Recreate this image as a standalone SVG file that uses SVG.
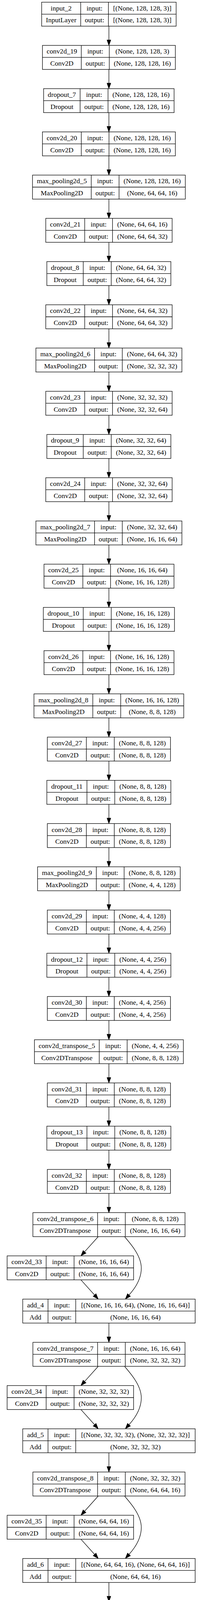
<svg xmlns="http://www.w3.org/2000/svg" width="538" height="4500" viewBox="0 0 538 4500">
<style>
.b{fill:#fff;stroke:#000;stroke-width:1.3}
.l{fill:none;stroke:#000;stroke-width:1.3}
.e{fill:none;stroke:#000;stroke-width:1.3;marker-end:url(#ah)}
text{font-family:"Liberation Serif","Times New Roman",serif;font-size:17.6px;text-anchor:middle;fill:#000}
</style>
<defs>
<marker id="ah" markerWidth="14" markerHeight="10" refX="0" refY="5" orient="auto" markerUnits="userSpaceOnUse" viewBox="0 0 14 10" overflow="visible"><path d="M0,0L14,5L0,10z" fill="#000" stroke="#000" stroke-width="1"/></marker>
</defs>
<rect x="0" y="0" width="538" height="4500" fill="#fff"/>
<g id="connectors">
<path class="e" d="M279,67.0V102.3"/>
<path class="e" d="M279,177.7V212.9"/>
<path class="e" d="M279,288.3V323.6"/>
<path class="e" d="M279,399.0V434.3"/>
<path class="e" d="M279,509.7V545.0"/>
<path class="e" d="M279,620.4V655.6"/>
<path class="e" d="M279,731.0V766.3"/>
<path class="e" d="M279,841.7V877.0"/>
<path class="e" d="M279,952.4V987.6"/>
<path class="e" d="M279,1063.0V1098.3"/>
<path class="e" d="M279,1173.7V1209.0"/>
<path class="e" d="M279,1284.4V1319.6"/>
<path class="e" d="M279,1395.0V1430.3"/>
<path class="e" d="M279,1505.7V1541.0"/>
<path class="e" d="M279,1616.4V1651.7"/>
<path class="e" d="M279,1727.1V1762.3"/>
<path class="e" d="M279,1837.7V1873.0"/>
<path class="e" d="M279,1948.4V1983.7"/>
<path class="e" d="M279,2059.1V2094.3"/>
<path class="e" d="M279,2169.7V2205.0"/>
<path class="e" d="M279,2280.4V2315.7"/>
<path class="e" d="M279,2391.1V2426.3"/>
<path class="e" d="M279,2501.7V2537.0"/>
<path class="e" d="M279,2612.4V2647.7"/>
<path class="e" d="M279,2723.1V2758.4"/>
<path class="e" d="M279,2833.8V2869.0"/>
<path class="e" d="M279,2944.4V2979.7"/>
<path class="e" d="M279,3055.1V3090.4"/>
<path class="e" d="M251.7,3165.8L216.7,3204.6"/>
<path class="e" d="M319,3165.8C334,3183.4 362,3214.4 362,3246.4C362,3272.4 347.3,3296.6 330.5,3315.2"/>
<path class="e" d="M207.3,3276.4L242.3,3315.3"/>
<path class="e" d="M279,3387.1V3422.4"/>
<path class="e" d="M251.7,3497.8L216.7,3536.6"/>
<path class="e" d="M319,3497.8C334,3515.4 362,3546.4 362,3578.4C362,3604.4 347.3,3628.6 330.5,3647.2"/>
<path class="e" d="M207.3,3608.4L242.3,3647.3"/>
<path class="e" d="M279,3719.1V3754.4"/>
<path class="e" d="M251.7,3829.8L216.7,3868.7"/>
<path class="e" d="M319,3829.8C334,3847.4 362,3878.4 362,3910.4C362,3936.4 347.3,3960.6 330.5,3979.2"/>
<path class="e" d="M207.3,3940.4L242.3,3979.3"/>
<path class="e" d="M279,4051.1V4086.4"/>
<path class="e" d="M250,4161.8L212.9,4200.9"/>
<path class="e" d="M321,4161.8C338,4180 366.7,4211 366.7,4243.4C366.7,4270 348.2,4292.8 331,4310.9"/>
<path class="e" d="M204,4272.5L241.1,4311.5"/>
<path class="e" d="M279,4383.1V4418.4"/>
</g>

<g id="input_2" transform="translate(0,5.6)"><rect class="b" x="106.7" y="0" width="344.6" height="61.4"/><path class="l" d="M106.7,30.7H451.3M206.7,0V61.4M277.7,0V61.4"/><text x="156.7" y="21.2">input_2</text><text x="242.2" y="21.2">input:</text><text x="364.5" y="21.2">[(None, 128, 128, 3)]</text><text x="156.7" y="51.9">InputLayer</text><text x="242.2" y="51.9">output:</text><text x="364.5" y="51.9">[(None, 128, 128, 3)]</text></g>

<g id="conv2d_19" transform="translate(0,116.27)"><rect class="b" x="108.7" y="0" width="340.6" height="61.4"/><path class="l" d="M108.7,30.7H449.3M208.3,0V61.4M280,0V61.4"/><text x="158.5" y="21.2">conv2d_19</text><text x="244.2" y="21.2">input:</text><text x="364.7" y="21.2">(None, 128, 128, 3)</text><text x="158.5" y="51.9">Conv2D</text><text x="244.2" y="51.9">output:</text><text x="364.7" y="51.9">(None, 128, 128, 16)</text></g>

<g id="dropout_7" transform="translate(0,226.94)"><rect class="b" x="111.7" y="0" width="334.3" height="61.4"/><path class="l" d="M111.7,30.7H446M205.3,0V61.4M276.7,0V61.4"/><text x="158.5" y="21.2">dropout_7</text><text x="241" y="21.2">input:</text><text x="361.4" y="21.2">(None, 128, 128, 16)</text><text x="158.5" y="51.9">Dropout</text><text x="241" y="51.9">output:</text><text x="361.4" y="51.9">(None, 128, 128, 16)</text></g>

<g id="conv2d_20" transform="translate(0,337.61)"><rect class="b" x="108.7" y="0" width="340.6" height="61.4"/><path class="l" d="M108.7,30.7H449.3M208.3,0V61.4M279.3,0V61.4"/><text x="158.5" y="21.2">conv2d_20</text><text x="243.8" y="21.2">input:</text><text x="364.3" y="21.2">(None, 128, 128, 16)</text><text x="158.5" y="51.9">Conv2D</text><text x="243.8" y="51.9">output:</text><text x="364.3" y="51.9">(None, 128, 128, 16)</text></g>

<g id="max_pooling2d_5" transform="translate(0,448.28)"><rect class="b" x="83.3" y="0" width="391.4" height="61.4"/><path class="l" d="M83.3,30.7H474.7M233.7,0V61.4M305,0V61.4"/><text x="158.5" y="21.2">max_pooling2d_5</text><text x="269.4" y="21.2">input:</text><text x="389.9" y="21.2">(None, 128, 128, 16)</text><text x="158.5" y="51.9">MaxPooling2D</text><text x="269.4" y="51.9">output:</text><text x="389.9" y="51.9">(None, 64, 64, 16)</text></g>

<g id="conv2d_21" transform="translate(0,558.95)"><rect class="b" x="117.3" y="0" width="323.7" height="61.4"/><path class="l" d="M117.3,30.7H441M217,0V61.4M288.3,0V61.4"/><text x="167.2" y="21.2">conv2d_21</text><text x="252.7" y="21.2">input:</text><text x="364.7" y="21.2">(None, 64, 64, 16)</text><text x="167.2" y="51.9">Conv2D</text><text x="252.7" y="51.9">output:</text><text x="364.7" y="51.9">(None, 64, 64, 32)</text></g>

<g id="dropout_8" transform="translate(0,669.62)"><rect class="b" x="120" y="0" width="317.7" height="61.4"/><path class="l" d="M120,30.7H437.7M213.3,0V61.4M285,0V61.4"/><text x="166.7" y="21.2">dropout_8</text><text x="249.2" y="21.2">input:</text><text x="361.4" y="21.2">(None, 64, 64, 32)</text><text x="166.7" y="51.9">Dropout</text><text x="249.2" y="51.9">output:</text><text x="361.4" y="51.9">(None, 64, 64, 32)</text></g>

<g id="conv2d_22" transform="translate(0,780.29)"><rect class="b" x="117.3" y="0" width="323.7" height="61.4"/><path class="l" d="M117.3,30.7H441M217,0V61.4M288.3,0V61.4"/><text x="167.2" y="21.2">conv2d_22</text><text x="252.7" y="21.2">input:</text><text x="364.7" y="21.2">(None, 64, 64, 32)</text><text x="167.2" y="51.9">Conv2D</text><text x="252.7" y="51.9">output:</text><text x="364.7" y="51.9">(None, 64, 64, 32)</text></g>

<g id="max_pooling2d_6" transform="translate(0,890.96)"><rect class="b" x="92" y="0" width="374" height="61.4"/><path class="l" d="M92,30.7H466M242.3,0V61.4M313.3,0V61.4"/><text x="167.2" y="21.2">max_pooling2d_6</text><text x="277.8" y="21.2">input:</text><text x="389.7" y="21.2">(None, 64, 64, 32)</text><text x="167.2" y="51.9">MaxPooling2D</text><text x="277.8" y="51.9">output:</text><text x="389.7" y="51.9">(None, 32, 32, 32)</text></g>

<g id="conv2d_23" transform="translate(0,1001.63)"><rect class="b" x="117.3" y="0" width="323.7" height="61.4"/><path class="l" d="M117.3,30.7H441M217,0V61.4M288.3,0V61.4"/><text x="167.2" y="21.2">conv2d_23</text><text x="252.7" y="21.2">input:</text><text x="364.7" y="21.2">(None, 32, 32, 32)</text><text x="167.2" y="51.9">Conv2D</text><text x="252.7" y="51.9">output:</text><text x="364.7" y="51.9">(None, 32, 32, 64)</text></g>

<g id="dropout_9" transform="translate(0,1112.3)"><rect class="b" x="120" y="0" width="317.7" height="61.4"/><path class="l" d="M120,30.7H437.7M213.3,0V61.4M285,0V61.4"/><text x="166.7" y="21.2">dropout_9</text><text x="249.2" y="21.2">input:</text><text x="361.4" y="21.2">(None, 32, 32, 64)</text><text x="166.7" y="51.9">Dropout</text><text x="249.2" y="51.9">output:</text><text x="361.4" y="51.9">(None, 32, 32, 64)</text></g>

<g id="conv2d_24" transform="translate(0,1222.97)"><rect class="b" x="117.3" y="0" width="323.7" height="61.4"/><path class="l" d="M117.3,30.7H441M217,0V61.4M288.3,0V61.4"/><text x="167.2" y="21.2">conv2d_24</text><text x="252.7" y="21.2">input:</text><text x="364.7" y="21.2">(None, 32, 32, 64)</text><text x="167.2" y="51.9">Conv2D</text><text x="252.7" y="51.9">output:</text><text x="364.7" y="51.9">(None, 32, 32, 64)</text></g>

<g id="max_pooling2d_7" transform="translate(0,1333.64)"><rect class="b" x="92" y="0" width="374" height="61.4"/><path class="l" d="M92,30.7H466M242.3,0V61.4M313.3,0V61.4"/><text x="167.2" y="21.2">max_pooling2d_7</text><text x="277.8" y="21.2">input:</text><text x="389.7" y="21.2">(None, 32, 32, 64)</text><text x="167.2" y="51.9">MaxPooling2D</text><text x="277.8" y="51.9">output:</text><text x="389.7" y="51.9">(None, 16, 16, 64)</text></g>

<g id="conv2d_25" transform="translate(0,1444.31)"><rect class="b" x="112.7" y="0" width="333" height="61.4"/><path class="l" d="M112.7,30.7H445.7M212.3,0V61.4M283.3,0V61.4"/><text x="162.5" y="21.2">conv2d_25</text><text x="247.8" y="21.2">input:</text><text x="364.5" y="21.2">(None, 16, 16, 64)</text><text x="162.5" y="51.9">Conv2D</text><text x="247.8" y="51.9">output:</text><text x="364.5" y="51.9">(None, 16, 16, 128)</text></g>

<g id="dropout_10" transform="translate(0,1554.98)"><rect class="b" x="111" y="0" width="336" height="61.4"/><path class="l" d="M111,30.7H447M213.3,0V61.4M285,0V61.4"/><text x="162.2" y="21.2">dropout_10</text><text x="249.2" y="21.2">input:</text><text x="366" y="21.2">(None, 16, 16, 128)</text><text x="162.2" y="51.9">Dropout</text><text x="249.2" y="51.9">output:</text><text x="366" y="51.9">(None, 16, 16, 128)</text></g>

<g id="conv2d_26" transform="translate(0,1665.65)"><rect class="b" x="112.7" y="0" width="333" height="61.4"/><path class="l" d="M112.7,30.7H445.7M212.3,0V61.4M283.3,0V61.4"/><text x="162.5" y="21.2">conv2d_26</text><text x="247.8" y="21.2">input:</text><text x="364.5" y="21.2">(None, 16, 16, 128)</text><text x="162.5" y="51.9">Conv2D</text><text x="247.8" y="51.9">output:</text><text x="364.5" y="51.9">(None, 16, 16, 128)</text></g>

<g id="max_pooling2d_8" transform="translate(0,1776.32)"><rect class="b" x="87" y="0" width="383.7" height="61.4"/><path class="l" d="M87,30.7H470.7M237.7,0V61.4M309.3,0V61.4"/><text x="162.4" y="21.2">max_pooling2d_8</text><text x="273.5" y="21.2">input:</text><text x="390" y="21.2">(None, 16, 16, 128)</text><text x="162.4" y="51.9">MaxPooling2D</text><text x="273.5" y="51.9">output:</text><text x="390" y="51.9">(None, 8, 8, 128)</text></g>

<g id="conv2d_27" transform="translate(0,1886.99)"><rect class="b" x="121.3" y="0" width="315.4" height="61.4"/><path class="l" d="M121.3,30.7H436.7M221.3,0V61.4M292.7,0V61.4"/><text x="171.3" y="21.2">conv2d_27</text><text x="257" y="21.2">input:</text><text x="364.7" y="21.2">(None, 8, 8, 128)</text><text x="171.3" y="51.9">Conv2D</text><text x="257" y="51.9">output:</text><text x="364.7" y="51.9">(None, 8, 8, 128)</text></g>

<g id="dropout_11" transform="translate(0,1997.66)"><rect class="b" x="120" y="0" width="317.7" height="61.4"/><path class="l" d="M120,30.7H437.7M222.7,0V61.4M294,0V61.4"/><text x="171.4" y="21.2">dropout_11</text><text x="258.4" y="21.2">input:</text><text x="365.9" y="21.2">(None, 8, 8, 128)</text><text x="171.4" y="51.9">Dropout</text><text x="258.4" y="51.9">output:</text><text x="365.9" y="51.9">(None, 8, 8, 128)</text></g>

<g id="conv2d_28" transform="translate(0,2108.33)"><rect class="b" x="121.3" y="0" width="315.4" height="61.4"/><path class="l" d="M121.3,30.7H436.7M221.3,0V61.4M292.7,0V61.4"/><text x="171.3" y="21.2">conv2d_28</text><text x="257" y="21.2">input:</text><text x="364.7" y="21.2">(None, 8, 8, 128)</text><text x="171.3" y="51.9">Conv2D</text><text x="257" y="51.9">output:</text><text x="364.7" y="51.9">(None, 8, 8, 128)</text></g>

<g id="max_pooling2d_9" transform="translate(0,2219.0)"><rect class="b" x="96.3" y="0" width="365.4" height="61.4"/><path class="l" d="M96.3,30.7H461.7M246.7,0V61.4M318,0V61.4"/><text x="171.5" y="21.2">max_pooling2d_9</text><text x="282.4" y="21.2">input:</text><text x="389.9" y="21.2">(None, 8, 8, 128)</text><text x="171.5" y="51.9">MaxPooling2D</text><text x="282.4" y="51.9">output:</text><text x="389.9" y="51.9">(None, 4, 4, 128)</text></g>

<g id="conv2d_29" transform="translate(0,2329.67)"><rect class="b" x="121.3" y="0" width="315.4" height="61.4"/><path class="l" d="M121.3,30.7H436.7M221.3,0V61.4M292.7,0V61.4"/><text x="171.3" y="21.2">conv2d_29</text><text x="257" y="21.2">input:</text><text x="364.7" y="21.2">(None, 4, 4, 128)</text><text x="171.3" y="51.9">Conv2D</text><text x="257" y="51.9">output:</text><text x="364.7" y="51.9">(None, 4, 4, 256)</text></g>

<g id="dropout_12" transform="translate(0,2440.34)"><rect class="b" x="120" y="0" width="317.7" height="61.4"/><path class="l" d="M120,30.7H437.7M222.7,0V61.4M294,0V61.4"/><text x="171.4" y="21.2">dropout_12</text><text x="258.4" y="21.2">input:</text><text x="365.9" y="21.2">(None, 4, 4, 256)</text><text x="171.4" y="51.9">Dropout</text><text x="258.4" y="51.9">output:</text><text x="365.9" y="51.9">(None, 4, 4, 256)</text></g>

<g id="conv2d_30" transform="translate(0,2551.01)"><rect class="b" x="121.3" y="0" width="315.4" height="61.4"/><path class="l" d="M121.3,30.7H436.7M221.3,0V61.4M292.7,0V61.4"/><text x="171.3" y="21.2">conv2d_30</text><text x="257" y="21.2">input:</text><text x="364.7" y="21.2">(None, 4, 4, 256)</text><text x="171.3" y="51.9">Conv2D</text><text x="257" y="51.9">output:</text><text x="364.7" y="51.9">(None, 4, 4, 256)</text></g>

<g id="conv2d_transpose_5" transform="translate(0,2661.68)"><rect class="b" x="88.3" y="0" width="381.4" height="61.4"/><path class="l" d="M88.3,30.7H469.7M254.3,0V61.4M325.7,0V61.4"/><text x="171.3" y="21.2">conv2d_transpose_5</text><text x="290" y="21.2">input:</text><text x="397.7" y="21.2">(None, 4, 4, 256)</text><text x="171.3" y="51.9">Conv2DTranspose</text><text x="290" y="51.9">output:</text><text x="397.7" y="51.9">(None, 8, 8, 128)</text></g>

<g id="conv2d_31" transform="translate(0,2772.35)"><rect class="b" x="121.3" y="0" width="315.4" height="61.4"/><path class="l" d="M121.3,30.7H436.7M221.3,0V61.4M292.7,0V61.4"/><text x="171.3" y="21.2">conv2d_31</text><text x="257" y="21.2">input:</text><text x="364.7" y="21.2">(None, 8, 8, 128)</text><text x="171.3" y="51.9">Conv2D</text><text x="257" y="51.9">output:</text><text x="364.7" y="51.9">(None, 8, 8, 128)</text></g>

<g id="dropout_13" transform="translate(0,2883.02)"><rect class="b" x="120" y="0" width="317.7" height="61.4"/><path class="l" d="M120,30.7H437.7M222.7,0V61.4M294,0V61.4"/><text x="171.4" y="21.2">dropout_13</text><text x="258.4" y="21.2">input:</text><text x="365.9" y="21.2">(None, 8, 8, 128)</text><text x="171.4" y="51.9">Dropout</text><text x="258.4" y="51.9">output:</text><text x="365.9" y="51.9">(None, 8, 8, 128)</text></g>

<g id="conv2d_32" transform="translate(0,2993.69)"><rect class="b" x="121.3" y="0" width="315.4" height="61.4"/><path class="l" d="M121.3,30.7H436.7M221.3,0V61.4M292.7,0V61.4"/><text x="171.3" y="21.2">conv2d_32</text><text x="257" y="21.2">input:</text><text x="364.7" y="21.2">(None, 8, 8, 128)</text><text x="171.3" y="51.9">Conv2D</text><text x="257" y="51.9">output:</text><text x="364.7" y="51.9">(None, 8, 8, 128)</text></g>

<g id="conv2d_transpose_6" transform="translate(0,3104.36)"><rect class="b" x="84.3" y="0" width="389.7" height="61.4"/><path class="l" d="M84.3,30.7H474M250,0V61.4M321,0V61.4"/><text x="167.2" y="21.2">conv2d_transpose_6</text><text x="285.5" y="21.2">input:</text><text x="397.5" y="21.2">(None, 8, 8, 128)</text><text x="167.2" y="51.9">Conv2DTranspose</text><text x="285.5" y="51.9">output:</text><text x="397.5" y="51.9">(None, 16, 16, 64)</text></g>

<g id="conv2d_33" transform="translate(0,3215.03)"><rect class="b" x="18.3" y="0" width="324" height="61.4"/><path class="l" d="M18.3,30.7H342.3M118.3,0V61.4M189.7,0V61.4"/><text x="68.3" y="21.2">conv2d_33</text><text x="154" y="21.2">input:</text><text x="266" y="21.2">(None, 16, 16, 64)</text><text x="68.3" y="51.9">Conv2D</text><text x="154" y="51.9">output:</text><text x="266" y="51.9">(None, 16, 16, 64)</text></g>

<g id="add_4" transform="translate(0,3325.7)"><rect class="b" x="58.3" y="0" width="441.7" height="61.4"/><path class="l" d="M58.3,30.7H500M123,0V61.4M194,0V61.4"/><text x="90.7" y="21.2">add_4</text><text x="158.5" y="21.2">input:</text><text x="347" y="21.2">[(None, 16, 16, 64), (None, 16, 16, 64)]</text><text x="90.7" y="51.9">Add</text><text x="158.5" y="51.9">output:</text><text x="347" y="51.9">(None, 16, 16, 64)</text></g>

<g id="conv2d_transpose_7" transform="translate(0,3436.37)"><rect class="b" x="84.3" y="0" width="389.7" height="61.4"/><path class="l" d="M84.3,30.7H474M250,0V61.4M321,0V61.4"/><text x="167.2" y="21.2">conv2d_transpose_7</text><text x="285.5" y="21.2">input:</text><text x="397.5" y="21.2">(None, 16, 16, 64)</text><text x="167.2" y="51.9">Conv2DTranspose</text><text x="285.5" y="51.9">output:</text><text x="397.5" y="51.9">(None, 32, 32, 32)</text></g>

<g id="conv2d_34" transform="translate(0,3547.04)"><rect class="b" x="18.3" y="0" width="324" height="61.4"/><path class="l" d="M18.3,30.7H342.3M118.3,0V61.4M189.7,0V61.4"/><text x="68.3" y="21.2">conv2d_34</text><text x="154" y="21.2">input:</text><text x="266" y="21.2">(None, 32, 32, 32)</text><text x="68.3" y="51.9">Conv2D</text><text x="154" y="51.9">output:</text><text x="266" y="51.9">(None, 32, 32, 32)</text></g>

<g id="add_5" transform="translate(0,3657.71)"><rect class="b" x="58.3" y="0" width="441.7" height="61.4"/><path class="l" d="M58.3,30.7H500M123,0V61.4M194,0V61.4"/><text x="90.7" y="21.2">add_5</text><text x="158.5" y="21.2">input:</text><text x="347" y="21.2">[(None, 32, 32, 32), (None, 32, 32, 32)]</text><text x="90.7" y="51.9">Add</text><text x="158.5" y="51.9">output:</text><text x="347" y="51.9">(None, 32, 32, 32)</text></g>

<g id="conv2d_transpose_8" transform="translate(0,3768.38)"><rect class="b" x="84.3" y="0" width="389.7" height="61.4"/><path class="l" d="M84.3,30.7H474M250,0V61.4M321,0V61.4"/><text x="167.2" y="21.2">conv2d_transpose_8</text><text x="285.5" y="21.2">input:</text><text x="397.5" y="21.2">(None, 32, 32, 32)</text><text x="167.2" y="51.9">Conv2DTranspose</text><text x="285.5" y="51.9">output:</text><text x="397.5" y="51.9">(None, 64, 64, 16)</text></g>

<g id="conv2d_35" transform="translate(0,3879.05)"><rect class="b" x="18.3" y="0" width="324" height="61.4"/><path class="l" d="M18.3,30.7H342.3M118.3,0V61.4M189.7,0V61.4"/><text x="68.3" y="21.2">conv2d_35</text><text x="154" y="21.2">input:</text><text x="266" y="21.2">(None, 64, 64, 16)</text><text x="68.3" y="51.9">Conv2D</text><text x="154" y="51.9">output:</text><text x="266" y="51.9">(None, 64, 64, 16)</text></g>

<g id="add_6" transform="translate(0,3989.72)"><rect class="b" x="58.3" y="0" width="441.7" height="61.4"/><path class="l" d="M58.3,30.7H500M123,0V61.4M194,0V61.4"/><text x="90.7" y="21.2">add_6</text><text x="158.5" y="21.2">input:</text><text x="347" y="21.2">[(None, 64, 64, 16), (None, 64, 64, 16)]</text><text x="90.7" y="51.9">Add</text><text x="158.5" y="51.9">output:</text><text x="347" y="51.9">(None, 64, 64, 16)</text></g>

<g id="conv2d_transpose_9" transform="translate(0,4100.39)"><rect class="b" x="75.7" y="0" width="406.6" height="61.4"/><path class="l" d="M75.7,30.7H482.3M241.7,0V61.4M312.7,0V61.4"/><text x="158.7" y="21.2">conv2d_transpose_9</text><text x="277.2" y="21.2">input:</text><text x="397.5" y="21.2">(None, 64, 64, 16)</text><text x="158.7" y="51.9">Conv2DTranspose</text><text x="277.2" y="51.9">output:</text><text x="397.5" y="51.9">(None, 128, 128, 16)</text></g>

<g id="conv2d_36" transform="translate(0,4211.06)"><rect class="b" x="4.7" y="0" width="340.6" height="61.4"/><path class="l" d="M4.7,30.7H345.3M104.7,0V61.4M176,0V61.4"/><text x="54.7" y="21.2">conv2d_36</text><text x="140.4" y="21.2">input:</text><text x="260.7" y="21.2">(None, 128, 128, 16)</text><text x="54.7" y="51.9">Conv2D</text><text x="140.4" y="51.9">output:</text><text x="260.7" y="51.9">(None, 128, 128, 16)</text></g>

<g id="add_7" transform="translate(0,4321.73)"><rect class="b" x="40.3" y="0" width="477.4" height="61.4"/><path class="l" d="M40.3,30.7H517.7M105.7,0V61.4M176.7,0V61.4"/><text x="73" y="21.2">add_7</text><text x="141.2" y="21.2">input:</text><text x="347.2" y="21.2">[(None, 128, 128, 16), (None, 128, 128, 16)]</text><text x="73" y="51.9">Add</text><text x="141.2" y="51.9">output:</text><text x="347.2" y="51.9">(None, 128, 128, 16)</text></g>

<g id="conv2d_37" transform="translate(0,4432.4)"><rect class="b" x="108.7" y="0" width="340.6" height="61.4"/><path class="l" d="M108.7,30.7H449.3M208.3,0V61.4M279.7,0V61.4"/><text x="158.5" y="21.2">conv2d_37</text><text x="244" y="21.2">input:</text><text x="364.5" y="21.2">(None, 128, 128, 16)</text><text x="158.5" y="51.9">Conv2D</text><text x="244" y="51.9">output:</text><text x="364.5" y="51.9">(None, 128, 128, 1)</text></g>
</svg>
